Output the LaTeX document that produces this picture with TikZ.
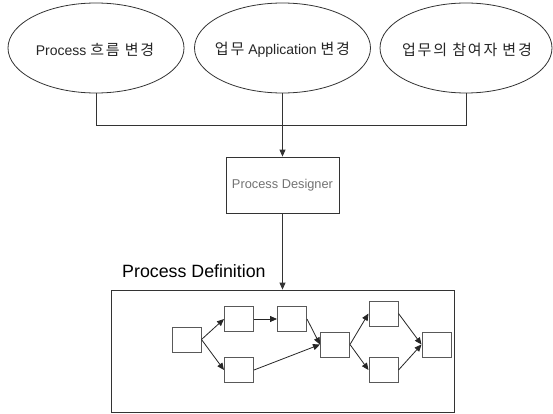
\documentclass[tikz,border=0pt]{standalone}
\usepackage{fontspec}
\setmainfont{Liberation Sans}
\newfontfamily\kofont[LetterSpace=12]{Noto Sans CJK KR}
\newcommand\ko[1]{{\fontsize{15}{16}\kofont #1}}
\usetikzlibrary{shapes.geometric,arrows.meta}
\begin{document}
\begin{tikzpicture}[x=1pt,y=-1pt,
  lin/.style={draw=black!80,line width=0.9pt},
  arr/.style={lin,-{Triangle[length=7pt,width=6pt]}},
  sarr/.style={draw=black!85,line width=0.8pt,-{Triangle[length=7pt,width=6pt]}},
  oval/.style={ellipse,draw=black!80,line width=0.8pt,minimum height=90pt,inner sep=0pt},
  otext/.style={inner sep=0pt,font=\fontsize{14}{16}\selectfont,text=black!85},
  sbox/.style={rectangle,draw=black!65,line width=1pt,minimum width=29pt,minimum height=25pt,inner sep=0pt}]
\useasboundingbox (0,0) rectangle (553,414);
\fill[white] (0,0) rectangle (553,414);
% ellipses
\node[oval,minimum width=176pt] (e1) at (96,48) {};
\node[oval,minimum width=176pt] (e2) at (282.5,48) {};
\node[oval,minimum width=172pt] (e3) at (466,48) {};
\node[otext] (t1) at (95,50) {Process \ko{흐름 변경}};
\node[otext] (t2) at (282.5,50) {\ko{업무} Application \ko{변경}};
\node[otext] (t3) at (467,50) {\ko{업무의 참여자 변경}};
\coordinate (hl) at (0,125);
\draw[lin] (e1.south) |- (e3.south |- hl) -- (e3.south);
% designer
\node[rectangle,draw=black!80,line width=0.8pt,minimum width=113pt,minimum height=56pt,inner sep=0pt,
  font=\fontsize{12.8}{14}\selectfont,text=black!55] (pd) at (282.5,185) {Process Designer};
\draw[arr] (e2.south) -- (pd.north);
% definition
\node[anchor=west,inner sep=0pt,font=\fontsize{17.8}{20}\selectfont] (lbl) at (122,271) {Process Definition};
\node[rectangle,draw=black!80,line width=0.8pt,minimum width=343pt,minimum height=122pt,inner sep=0pt] (big) at (282.5,351) {};
\draw[arr] (pd.south) -- (big.north);
% small process graph
\node[sbox] (b1) at (186.5,339.5) {};
\node[sbox] (b2) at (239,319) {};
\node[sbox] (b3) at (292,319) {};
\node[sbox] (b4) at (239,370) {};
\node[sbox] (b5) at (335,344.5) {};
\node[sbox] (b6) at (383.5,313.5) {};
\node[sbox] (b7) at (383.5,370) {};
\node[sbox] (b8) at (436.5,344.5) {};
\draw[sarr] (b1.east) -- (b2.west);
\draw[sarr] (b1.east) -- (b4.west);
\draw[sarr] (b2.east) -- (b3.west);
\draw[sarr] (b3.east) -- (b5.west);
\draw[sarr] (b4.east) -- (b5.west);
\draw[sarr] (b5.east) -- (b6.west);
\draw[sarr] (b5.east) -- (b7.west);
\draw[sarr] (b6.east) -- (b8.west);
\draw[sarr] (b7.east) -- (b8.west);
\end{tikzpicture}
\end{document}
